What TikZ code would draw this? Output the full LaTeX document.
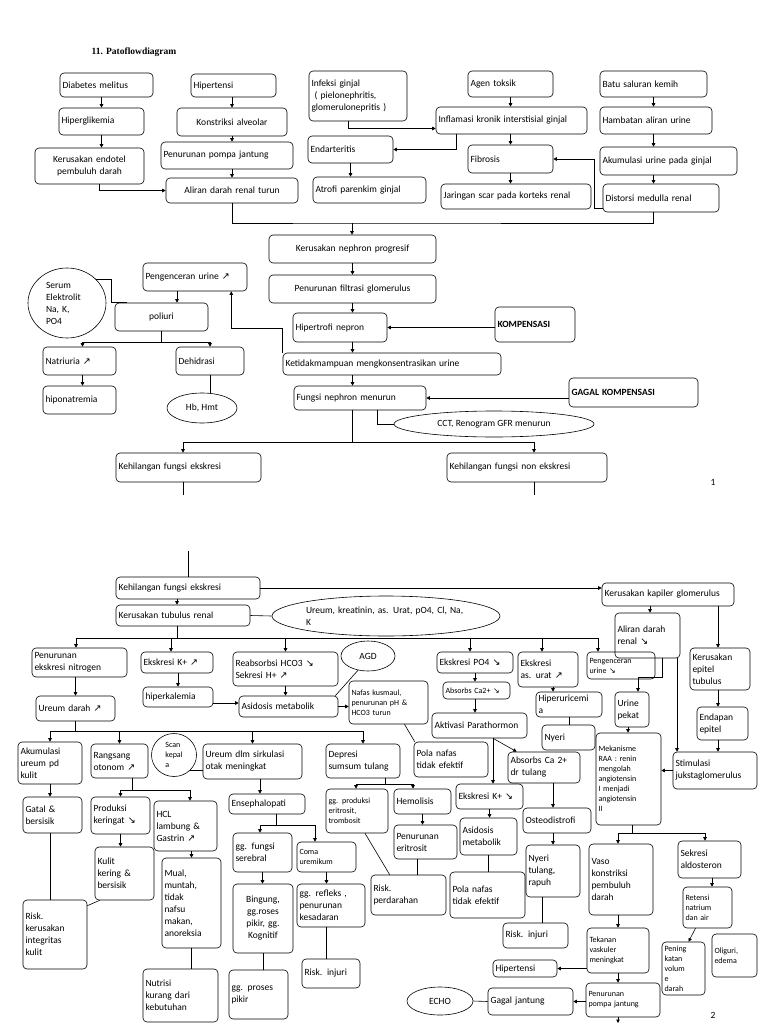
\documentclass[tikz,border=0pt]{standalone}
\usepackage{fontspec}
\setmainfont{Carlito}
\newfontfamily\judulfont{Liberation Serif}
\newfontfamily\panahfont{DejaVu Sans}
\usetikzlibrary{arrows.meta,shapes.geometric}
\hyphenpenalty=10000
\exhyphenpenalty=10000
\newcommand{\tulisan}{\fontsize{9.5}{12}\selectfont}
\newcommand{\tulisankecil}{\fontsize{8}{10}\selectfont}
\newcommand{\naik}{{\panahfont ↗}}
\newcommand{\turun}{{\panahfont ↘}}
\tikzset{
  kotak/.style={draw, rounded corners=4pt, align=left, inner xsep=2.5pt, inner ysep=2pt, font=\tulisan},
  lonjong/.style={draw, ellipse, inner sep=0pt, align=center, font=\tulisan},
  kecil/.style={font=\tulisankecil},
}
\newcommand{\kotak}[7][]{%
  \pgfmathsetmacro{\lebarteks}{#5-#3-5}%
  \pgfmathsetmacro{\tinggikotak}{#6-#4}%
  \node[kotak, text width=\lebarteks pt, minimum height=\tinggikotak pt, #1] (#2) at ({(#3+#5)/2},{(#4+#6)/2}) {#7};}
\begin{document}
\begin{tikzpicture}[x=1pt, y=-1pt, line width=0.6pt, >={Triangle[length=3.5pt,width=3.5pt]}]
\useasboundingbox (0,0) rectangle (768,1024);

\node[font=\judulfont\bfseries\fontsize{9.5}{11}\selectfont] (judul) at (134,52) {11. Patoflowdiagram};

\kotak{diabetes}{60}{73}{153}{97}{Diabetes melitus}
\kotak{hiperglik}{59}{108}{144}{135}{Hiperglikemia}
\kotak[align=center]{endotel}{35}{148}{144}{184}{Kerusakan endotel\\pembuluh darah}
\kotak{hipertensi}{191}{74}{276}{97}{Hipertensi}
\kotak[align=center]{konstriksi}{177}{108}{287}{136}{Konstriksi alveolar}
\kotak{pompa}{161}{142}{293}{169}{Penurunan pompa jantung}
\kotak[align=center]{aliran}{166}{178}{298}{203}{Aliran darah renal turun}
\kotak{infeksi}{309}{71}{407}{121}{Infeksi ginjal\\\ ( pielonephritis,\\glomerulonepritis )}
\kotak{endarteritis}{308}{136}{393}{163}{Endarteritis}
\kotak{atrofi}{313}{177}{426}{203}{Atrofi parenkim ginjal}
\kotak{agen}{468}{71}{553}{97}{Agen toksik}
\kotak{inflamasi}{436}{107}{587}{134}{Inflamasi kronik interstisial ginjal}
\kotak{fibrosis}{468}{145}{553}{173}{Fibrosis}
\kotak{jaringan}{441}{184}{591}{209}{Jaringan scar pada korteks renal}
\kotak{batu}{600}{71}{707}{97}{Batu saluran kemih}
\kotak{hambatan}{600}{107}{712}{134}{Hambatan aliran urine}
\kotak{akumulasi}{600}{147}{737}{175}{Akumulasi urine pada ginjal}
\kotak{distorsi}{603}{184}{719}{212}{Distorsi medulla renal}

\kotak[align=center]{nephron}{269}{235}{436}{263}{Kerusakan nephron progresif}
\kotak[align=center]{filtrasi}{269}{275}{436}{303}{Penurunan filtrasi glomerulus}
\kotak{hipertrofi}{293}{313}{387}{342}{Hipertrofi nepron}
\kotak[font=\tulisan\bfseries]{kompensasi}{495}{307}{575}{342}{KOMPENSASI}
\kotak{pengenceran}{143}{263}{247}{291}{Pengenceran urine \naik}
\node[lonjong, align=left, text width=42pt, minimum width=78pt, minimum height=70pt] (serum) at (67,303) {Serum\\Elektrolit\\Na, K,\\PO4};
\kotak[align=center]{poliuri}{115}{303}{208}{331}{poliuri}
\kotak{ketidak}{283}{353}{501}{375}{Ketidakmampuan mengkonsentrasikan urine}
\kotak{natriuria}{43}{347}{116}{375}{Natriuria \naik}
\kotak{dehidrasi}{176}{347}{244}{375}{Dehidrasi}
\kotak{hipona}{43}{386}{116}{414}{hiponatremia}
\node[lonjong, minimum width=70pt, minimum height=30pt] (hb) at (202,408) {Hb, Hmt};
\kotak{fungsi}{294}{386}{426}{410}{Fungsi nephron menurun}
\kotak[font=\tulisan\bfseries]{gagal}{569}{378}{698}{407}{GAGAL KOMPENSASI}
\node[lonjong, minimum width=200pt, minimum height=26pt] (cct) at (494,424) {CCT, Renogram GFR menurun};
\kotak{kehil1}{116}{453}{261}{482}{Kehilangan fungsi ekskresi}
\kotak{kehil2}{447}{453}{607}{482}{Kehilangan fungsi non ekskresi}
\node[font=\tulisan] (hal1) at (713,482) {1};

\coordinate (busatas) at (352,223);
\coordinate (buspoliuri) at (162,342);
\coordinate (buskehil) at (352,442);
\coordinate (ujung1) at (183,495);
\coordinate (ujung2) at (534,495);

\draw [->] (diabetes.south -| hiperglik.north) -- (hiperglik.north);
\draw [->] (hiperglik.south) -- (hiperglik.south |- endotel.north);
\draw [->] ([xshift=10pt]endotel.south) |- (aliran.west);
\draw [->] (hipertensi.south -| konstriksi.north) -- (konstriksi.north);
\draw [->] (konstriksi.south) -- (konstriksi.south |- pompa.north);
\draw [->] (pompa.south -| aliran.north) -- (aliran.north);
\draw [->] ([xshift=-10pt]infeksi.south) |- ([yshift=-8pt]inflamasi.west);
\draw [->] ([xshift=21pt]inflamasi.south west) |- (endarteritis.east);
\draw [->] (endarteritis.south) -- (endarteritis.south |- atrofi.north);
\draw [->] (agen.south) -- (agen.south |- inflamasi.north);
\draw [->] (inflamasi.south -| fibrosis.north) -- (fibrosis.north);
\draw [->] (fibrosis.south) -- (fibrosis.south |- jaringan.north);
\draw [->] (batu.south) -- (batu.south |- hambatan.north);
\draw [->] (hambatan.south -| batu.south) -- (batu.south |- akumulasi.north);
\draw [->] (akumulasi.south -| batu.south) -- (batu.south |- distorsi.north);
\draw [->] ([yshift=4pt]distorsi.south west) -- ++(-8,0) |- (fibrosis.east);
\draw (aliran.south) |- (busatas) -| (distorsi.south -| batu.south);
\draw [->] (busatas) -- (busatas |- nephron.north);

\draw [->] (nephron) -- (filtrasi);
\draw [->] (filtrasi.south) -- (filtrasi.south |- hipertrofi.north);
\draw [->] (kompensasi.west |- hipertrofi.east) -- (hipertrofi.east);
\draw [->] (hipertrofi.south -| filtrasi.south) -- (filtrasi.south |- ketidak.north);
\draw [->] (ketidak.south -| filtrasi.south) -- (filtrasi.south |- fungsi.north);
\draw [->] (gagal.west |- fungsi.east) -- (fungsi.east);
\draw ([xshift=17pt]fungsi.south) |- (cct.west);
\draw [->] (ketidak.north west) -- ++(0,-24) -| ([xshift=-16pt]pengenceran.south east);
\draw [->] ([xshift=-18pt]pengenceran.south) -- ([xshift=-18pt]pengenceran.south |- poliuri.north);
\draw (serum.40) -| ([xshift=-3pt]poliuri.north west) -- ([xshift=12pt]poliuri.north west);
\draw (poliuri.south) -- (poliuri.south |- buspoliuri);
\draw [->] (buspoliuri) -| ([xshift=3pt]natriuria.north);
\draw [->] (buspoliuri) -| (dehidrasi.north);
\draw [->] ([xshift=3pt]natriuria.south) -- ([xshift=3pt]natriuria.south |- hipona.north);
\draw (dehidrasi.south) -- (dehidrasi.south |- hb.north);
\draw (fungsi.south -| buskehil) -- (buskehil);
\draw [->] (buskehil) -| ([xshift=-5.5pt]kehil1.north);
\draw [->] (buskehil) -| ([xshift=7pt]kehil2.north);
\draw ([xshift=-5.5pt]kehil1.south) -- (ujung1);
\draw ([xshift=7pt]kehil2.south) -- (ujung2);

\kotak{kehil3}{116}{577}{260}{599}{Kehilangan fungsi ekskresi}
\kotak{kapiler}{602}{583}{734}{606}{Kerusakan kapiler glomerulus}
\kotak{tubulus}{116}{605}{250}{626}{Kerusakan tubulus renal}
\node[lonjong, align=left, text width=160pt, inner sep=0.5pt, minimum width=228pt, minimum height=40pt] (ureumkre) at (386,616) {Ureum, kreatinin, as. Urat, pO4, Cl, Na,\\K};
\kotak{aliranr}{615}{613}{680}{658}{Aliran darah\\renal \turun}

\kotak{nitrogen}{32}{648}{127}{677}{Penurunan\\ekskresi nitrogen}
\kotak{eksK}{141}{652}{213}{673}{Ekskresi K+ \naik}
\kotak{reab}{233}{652}{338}{686}{Reabsorbsi HCO3 \turun\\Sekresi H+ \naik}
\node[lonjong, minimum width=54pt, minimum height=30pt] (agd) at (368,656) {AGD};
\kotak{po4}{437}{652}{513}{673}{Ekskresi PO4 \turun}
\kotak{asurat}{518}{652}{578}{687}{Ekskresi\\as. urat \naik}
\kotak[kecil]{encer}{587}{652}{655}{679}{Pengenceran\\urine \turun}
\kotak{kerepitel}{690}{648}{750}{690}{Kerusakan\\epitel\\tubulus}
\kotak{ureumdarah}{36}{696}{115}{721}{Ureum darah \naik}
\kotak{hiperkal}{143}{687}{213}{707}{hiperkalemia}
\kotak{asidosis1}{239}{696}{338}{717}{Asidosis metabolik}
\kotak[kecil]{nafas}{349}{681}{428}{724}{Nafas kusmaul,\\penurunan pH \&\\HCO3 turun}
\kotak[kecil]{absCa}{443}{682}{510}{699}{Absorbs Ca2+ \turun}
\kotak{hiperu}{536}{692}{602}{717}{Hiperuricemi\\a}
\kotak{urinepekat}{615}{692}{649}{727}{Urine\\pekat}
\kotak{endapan}{697}{707}{748}{740}{Endapan\\epitel}
\kotak{aktivasi}{432}{713}{527}{738}{Aktivasi Parathormon}
\kotak{nyeri}{542}{725}{595}{750}{Nyeri}
\kotak[kecil]{mekanisme}{596}{733}{661}{825}{Mekanisme\\RAA : renin\\mengolah\\angiotensin\\I menjadi\\angiotensin\\II}

\kotak{akumulasi2}{18}{742}{82}{784}{Akumulasi\\ureum pd\\kulit}
\kotak{rangsang}{91}{744}{148}{778}{Rangsang\\otonom \naik}
\node[lonjong, align=left, kecil, minimum width=45pt, minimum height=43pt] (scan) at (174,755) {Scan\\kepal\\a};
\kotak{otak}{203}{744}{302}{779}{Ureum dlm sirkulasi\\otak meningkat}
\kotak{depresi}{326}{744}{400}{778}{Depresi\\sumsum tulang}
\kotak{pola1}{414}{742}{488}{777}{Pola nafas\\tidak efektif}
\kotak{absCa2}{508}{752}{580}{783}{Absorbs Ca 2+\\dr tulang}
\kotak{stimulasi}{673}{752}{757}{789}{Stimulasi\\jukstaglomerulus}

\kotak{gatal}{23}{797}{82}{833}{Gatal \&\\bersisik}
\kotak{produksi}{91}{797}{150}{834}{Produksi\\keringat \turun}
\kotak{hcl}{154}{801}{217}{851}{HCL\\lambung \&\\Gastrin \naik}
\kotak{enseph}{229}{794}{305}{814}{Ensephalopati}
\kotak[kecil]{ggprod}{326}{789}{388}{833}{gg. produksi\\eritrosit,\\trombosit}
\kotak{hemolisis}{394}{789}{451}{814}{Hemolisis}
\kotak{ekskK2}{456}{784}{523}{809}{Ekskresi K+ \turun}
\kotak{osteo}{523}{808}{591}{833}{Osteodistrofi}
\kotak{vaso}{589}{844}{653}{915}{Vaso\\konstriksi\\pembuluh\\darah}
\kotak{sekresi}{678}{841}{741}{878}{Sekresi\\aldosteron}

\kotak{kulit}{95}{847}{154}{900}{Kulit\\kering \&\\bersisik}
\kotak{mual}{162}{858}{221}{948}{Mual,\\muntah,\\tidak\\nafsu\\makan,\\anoreksia}
\kotak{ggfungsi}{233}{833}{292}{872}{gg. fungsi\\serebral}
\kotak[kecil]{coma}{297}{842}{356}{872}{Coma\\uremikum}
\kotak{penerit}{394}{825}{457}{859}{Penurunan\\eritrosit}
\kotak{asidosis2}{460}{818}{517}{855}{Asidosis\\metabolik}
\kotak{nyeri2}{526}{845}{580}{897}{Nyeri\\tulang,\\rapuh}

\kotak{risk1}{23}{900}{87}{969}{Risk.\\kerusakan\\integritas\\kulit}
\kotak[align=center]{bingung}{233}{884}{293}{953}{Bingung,\\gg.roses\\pikir, gg.\\Kognitif}
\kotak{refleks}{297}{884}{365}{927}{gg. refleks ,\\penurunan\\kesadaran}
\kotak{riskpd}{371}{875}{446}{915}{Risk.\\perdarahan}
\kotak{pola2}{450}{872}{525}{918}{Pola nafas\\tidak efektif}
\kotak{riskinj2}{503}{923}{568}{948}{Risk. injuri}
\kotak[kecil]{tekanan}{587}{928}{649}{973}{Tekanan\\vaskuler\\meningkat}
\kotak[kecil]{retensi}{683}{887}{732}{928}{Retensi\\natrium\\dan air}
\kotak[kecil]{pening}{662}{942}{705}{995}{Pening\\katan\\volum\\e\\darah}
\kotak[kecil]{oliguri}{712}{934}{757}{977}{Oliguri,\\edema}

\kotak{nutrisi}{143}{969}{218}{1022}{Nutrisi\\kurang dari\\kebutuhan}
\kotak{ggproses}{229}{970}{288}{1019}{gg. proses\\pikir}
\kotak{riskinj1}{302}{959}{360}{988}{Risk. injuri}
\kotak{hipert2}{493}{960}{557}{977}{Hipertensi}
\kotak{gagalj}{488}{988}{573}{1015}{Gagal jantung}
\node[lonjong, minimum width=66pt, minimum height=28pt] (echo) at (440,1001) {ECHO};
\kotak[kecil]{pompa2}{586}{983}{660}{1017}{Penurunan\\pompa jantung}
\node[font=\tulisan] (hal2) at (713,1015) {2};

\coordinate (awal) at (188,551);
\coordinate (bustubulus) at (177,638);
\coordinate (busureum) at (75,731);
\coordinate (busrangsang) at (132,790);
\coordinate (busenseph) at (276,825);
\coordinate (busdepresi) at (385,784);
\coordinate (busraa) at (632,833);
\coordinate (ujung3) at (618,1023);

\draw (awal) -- (awal |- kehil3.north);
\draw [->] (kehil3.east) -- (kehil3.east -| kapiler.west);
\draw [->] ([xshift=-11pt]kehil3.south) -- ([xshift=-11pt]kehil3.south |- tubulus.north);
\draw (tubulus.east) -- (ureumkre.west);
\draw (tubulus.south -| bustubulus) -- (bustubulus);
\draw ([xshift=-3.5pt]nitrogen.north |- bustubulus) -- ([xshift=-23pt]encer.north |- bustubulus);
\foreach \nama/\geser in {nitrogen/-3.5, eksK/-6, reab/0, po4/-5, asurat/-6, encer/-23}
  \draw [->] ([xshift=\geser pt]\nama.north |- bustubulus) -- ([xshift=\geser pt]\nama.north);

\draw [->] ([xshift=-18pt]kapiler.south) -- ([xshift=-18pt]kapiler.south |- aliranr.north);
\draw [->] ([xshift=50pt]kapiler.south) -- ([xshift=50pt]kapiler.south |- kerepitel.north);
\draw [->] ([xshift=-2pt]kerepitel.south) -- ([xshift=-2pt]kerepitel.south |- endapan.north);
\draw [->] ([xshift=-2pt]kerepitel.south |- endapan.south) -- ([xshift=-2pt]kerepitel.south |- stimulasi.north);
\draw [->] ([xshift=29.5pt]aliranr.south) -- ([xshift=29.5pt]aliranr.south |- stimulasi.north);
\draw [->] ([xshift=14.5pt]aliranr.south) -- ++(0,19) -| ([xshift=6pt]urinepekat.north);
\draw [->] ([xshift=-4pt]urinepekat.south) -- ([xshift=-4pt]urinepekat.south |- mekanisme.north);
\draw [->] (stimulasi.west) -- (stimulasi.west -| mekanisme.east);
\draw (mekanisme.south -| busraa) -- (busraa);
\draw [->] (busraa) -| ([xshift=-3pt]vaso.north);
\draw [->] (busraa) -| ([xshift=-4.5pt]sekresi.north);
\draw [->] ([xshift=2.5pt]sekresi.south) -- ([xshift=2.5pt]sekresi.south |- retensi.north);
\draw [->] ([xshift=-12pt]retensi.south) -- ([xshift=5pt]pening.north);
\draw [->] ([xshift=-3pt]vaso.south) -- ([xshift=-3pt]vaso.south |- tekanan.north);
\draw [->] (tekanan.west |- hipert2.east) -- (hipert2.east);
\draw [->] (tekanan.south) -- (tekanan.south |- pompa2.north);
\draw [->] (pompa2.west |- gagalj.east) -- (gagalj.east);
\draw (echo.east) -- (gagalj.west);
\draw [->] (pompa2.south -| ujung3) -- (ujung3);

\draw [->] (nitrogen.south -| ureumdarah.north) -- (ureumdarah.north);
\draw (ureumdarah.south) -- (ureumdarah.south |- busureum);
\draw (busureum -| akumulasi2.north) -- (busureum -| depresi.north);
\foreach \nama in {akumulasi2, rangsang, otak, depresi}
  \draw [->] (busureum -| \nama.north) -- (\nama.north);
\draw [->] (eksK.south -| hiperkal.north) -- (hiperkal.north);
\draw [->] ([yshift=-6pt]hiperkal.east) -- ([yshift=-6pt]hiperkal.east -| asidosis1.west);
\draw [->] (reab.south) -- (reab.south |- asidosis1.north);
\draw ([xshift=-3pt]asidosis1.north east) -- (agd.235);
\draw [->] (asidosis1.east) -- (asidosis1.east -| nafas.west);
\draw ([xshift=16pt]nafas.south) -- ([xshift=1pt]pola1.north west);
\draw [->] (po4.south) -- (po4.south |- absCa.north);
\draw [->] (absCa.south -| po4.south) -- (po4.south |- aktivasi.north);
\draw [->] ([xshift=5pt]asurat.south) -- ([xshift=5pt]asurat.south |- hiperu.north);
\draw (hiperu.south) -- (hiperu.south |- nyeri.north);
\draw [->] ([xshift=13.5pt]aktivasi.south) -- ([xshift=9pt]absCa2.north west);
\draw [->] ([xshift=13.5pt]aktivasi.south) -- ([xshift=13.5pt]aktivasi.south |- ekskK2.north);
\draw [->] (ekskK2.south) -- (ekskK2.south |- asidosis2.north);
\draw (asidosis2.south) -- (asidosis2.south |- pola2.north);
\draw [->] ([xshift=9pt]absCa2.south) -- ([xshift=9pt]absCa2.south |- osteo.north);
\draw [->] (osteo.south -| nyeri2.north) -- (nyeri2.north);
\draw ([xshift=-11pt]nyeri2.south) -- ([xshift=-11pt]nyeri2.south |- riskinj2.north);
\draw ([xshift=22pt]depresi.south) -- (busdepresi);
\draw [->] (busdepresi) -| ([xshift=-1pt]ggprod.north);
\draw [->] (busdepresi) -| ([xshift=-9.5pt]hemolisis.north);
\draw [->] (hemolisis.south) -- (hemolisis.south |- penerit.north);
\draw ([xshift=-8.5pt]penerit.south) -- ([xshift=-8.5pt]penerit.south |- riskpd.north);
\draw ([xshift=8pt]ggprod.south) -- ([xshift=19pt]riskpd.north west);
\draw [->] ([xshift=7.5pt]otak.south) -- ([xshift=7.5pt]otak.south |- enseph.north);
\draw ([xshift=9pt]enseph.south) -- (busenseph);
\draw [->] (busenseph) -| ([xshift=-2.5pt]ggfungsi.north);
\draw [->] (busenseph) -| ([xshift=-11.5pt]coma.north);
\draw [->] (ggfungsi.south) -- (ggfungsi.south |- bingung.north);
\draw [->] (coma.south) -- (coma.south |- refleks.north);
\draw (bingung.south) -- (bingung.south |- ggproses.north);
\draw ([xshift=-5pt]refleks.south) -- ([xshift=-5pt]refleks.south |- riskinj1.north);
\draw [->] (akumulasi2.south) -- (akumulasi2.south |- gatal.north);
\draw ([xshift=-2.5pt]gatal.south) -- ([xshift=-2.5pt]gatal.south |- risk1.north);
\draw ([xshift=5pt]kulit.south west) -- ([yshift=-6pt]risk1.north east);
\draw ([xshift=12.5pt]rangsang.south) -- (busrangsang);
\draw [->] (busrangsang) -| (produksi.north);
\draw [->] (busrangsang) -| ([xshift=4.5pt]hcl.north);
\draw (scan.-45) -- (scan.-45 -| otak.west);
\draw [->] (produksi.south) -- (produksi.south |- kulit.north);
\draw [->] (hcl.south -| mual.north) -- (mual.north);
\draw (mual.south) -- (mual.south |- nutrisi.north);

\end{tikzpicture}
\end{document}
